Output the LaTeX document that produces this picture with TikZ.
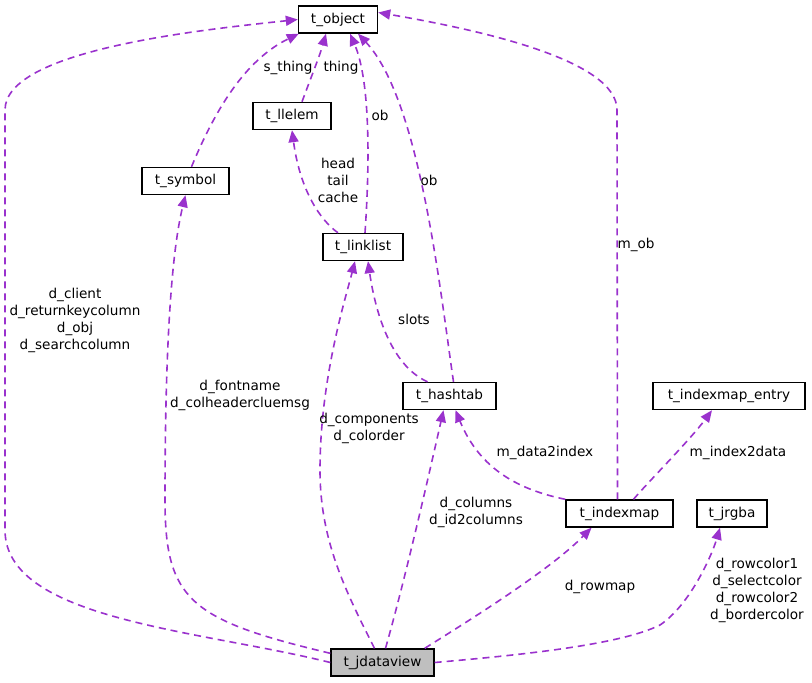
\documentclass[tikz,border=0pt]{standalone}
\usepackage{fontspec}
\setmainfont{DejaVu Sans}
\usetikzlibrary{shapes,arrows.meta}
\definecolor{edgepurple}{HTML}{9A32CD}
\tikzset{
  cls/.style={draw, line width=1.4pt, fill=white, inner sep=0pt, minimum height=27pt, font=\fontsize{13.6}{16}\selectfont},
  rel/.style={edgepurple, line width=1.6pt, dash pattern=on 7pt off 5pt, -{Triangle[length=12pt,width=10pt]}},
  lbl/.style={align=center, font=\fontsize{13.6}{17}\selectfont, inner sep=1pt}
}
\begin{document}
\begin{tikzpicture}[x=1pt,y=-1pt]
\useasboundingbox (0,0) rectangle (812,683);
% classes
\node[cls, minimum width=79pt] (obj) at (338,19.5) {t\_object};
\node[cls, minimum width=78pt] (llelem) at (292,116) {t\_llelem};
\node[cls, minimum width=87pt] (sym) at (185.5,181) {t\_symbol};
\node[cls, minimum width=80pt] (llist) at (363,247) {t\_linklist};
\node[cls, minimum width=93pt] (hash) at (449.5,396) {t\_hashtab};
\node[cls, minimum width=152pt] (entry) at (729,396) {t\_indexmap\_entry};
\node[cls, minimum width=107pt] (imap) at (619.5,513.5) {t\_indexmap};
\node[cls, minimum width=70pt] (rgba) at (732,513.5) {t\_jrgba};
\node[cls, minimum width=103pt, fill={rgb,255:red,191;green,191;blue,191}] (jdv) at (382.5,662.5) {t\_jdataview};
% links from t_jdataview
\draw[rel] (jdv.west) .. controls (200,630) and (5,620) .. (5,530) -- (5,110)
  .. controls (5,50) and (200,30) .. (obj.west);
\draw[rel] ([yshift=-5pt]jdv.north west) .. controls (190,620) and (165,600) .. (165,500)
  .. controls (165,340) and (172,250) .. (sym.south);
\draw[rel] ([xshift=-8pt]jdv.north) .. controls (345,590) and (320,540) .. (320,470)
  .. controls (320,380) and (345,300) .. ([xshift=-8pt]llist.south);
\draw[rel] ([xshift=3pt]jdv.north) .. controls (405,580) and (430,470) .. ([xshift=-6pt]hash.south);
\draw[rel] ([xshift=-10pt]jdv.north east) .. controls (470,620) and (550,570) .. ([xshift=-28pt]imap.south);
\draw[rel] (jdv.east) .. controls (520,655) and (620,645) .. (660,625)
  .. controls (690,605) and (712,555) .. ([xshift=-12pt]rgba.south);
% links to t_object
\draw[rel] ([xshift=6pt]sym.north) .. controls (215,110) and (245,60) .. ([xshift=1pt]obj.south west);
\draw[rel] ([xshift=10pt]llelem.north) .. controls (310,80) and (320,55) .. ([xshift=-12pt]obj.south);
\draw[rel] ([xshift=2pt]llist.north) .. controls (370,160) and (370,80) .. ([xshift=12pt]obj.south);
\draw[rel] ([xshift=4pt]hash.north) .. controls (440,290) and (420,100) .. ([xshift=20pt]obj.south);
\draw[rel] ([xshift=-2pt]imap.north) -- (617,110) .. controls (617,60) and (480,30) .. ([yshift=7pt]obj.east);
% other links
\draw[rel] ([xshift=-25pt]llist.north) .. controls (320,220) and (300,190) .. (llelem.south);
\draw[rel] ([xshift=-22pt]hash.north) .. controls (390,365) and (375,310) .. ([xshift=5pt]llist.south);
\draw[rel] (imap.north west) .. controls (520,490) and (480,470) .. ([xshift=6pt]hash.south);
\draw[rel] ([xshift=14pt]imap.north) .. controls (650,480) and (690,440) .. ([xshift=-17pt]entry.south);
% labels
\node[lbl] (lclient) at (75,320) {d\_client\\d\_returnkeycolumn\\d\_obj\\d\_searchcolumn};
\node[lbl] (lfont) at (240,395) {d\_fontname\\d\_colheadercluemsg};
\node[lbl] (lcomp) at (369,428) {d\_components\\d\_colorder};
\node[lbl] (lcols) at (476,512) {d\_columns\\d\_id2columns};
\node[lbl] (lrowmap) at (600,587) {d\_rowmap};
\node[lbl] (lcolor) at (757,590) {d\_rowcolor1\\d\_selectcolor\\d\_rowcolor2\\d\_bordercolor};
\node[lbl] (lsthing) at (288,68) {s\_thing};
\node[lbl] (lthing) at (341,68) {thing};
\node[lbl] (lob) at (380,115) {ob};
\node[lbl] (lob2) at (429,180) {ob};
\node[lbl] (lhead) at (338,180) {head\\tail\\cache};
\node[lbl] (lslots) at (414,319) {slots};
\node[lbl] (ldata) at (545,453) {m\_data2index};
\node[lbl] (lmob) at (636,245) {m\_ob};
\node[lbl] (lidx) at (738,453) {m\_index2data};
\end{tikzpicture}
\end{document}
